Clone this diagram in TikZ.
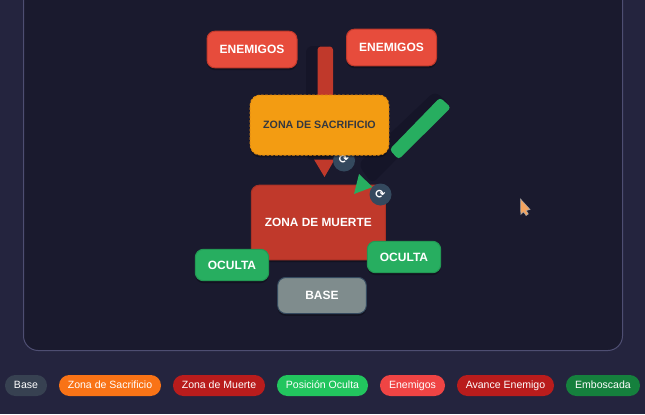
\documentclass[tikz,border=0pt]{standalone}
\usepackage{fontspec}
\setmainfont{Liberation Sans}
\newfontfamily\symfont{DejaVu Sans}
\usetikzlibrary{shadows}
\definecolor{pagebg}{HTML}{24243E}
\definecolor{panelbg}{HTML}{1A1A2E}
\definecolor{panelline}{HTML}{4E4E72}
\definecolor{armshadow}{HTML}{151528}
\definecolor{enemy}{HTML}{E74C3C}
\definecolor{enemyline}{HTML}{C0392B}
\definecolor{sacri}{HTML}{F39C12}
\definecolor{sacriline}{HTML}{E58C10}
\definecolor{sacritext}{HTML}{34383F}
\definecolor{death}{HTML}{C0392B}
\definecolor{deathline}{HTML}{A93226}
\definecolor{hidden}{HTML}{27AE60}
\definecolor{hiddenline}{HTML}{229954}
\definecolor{basefill}{HTML}{7F8C8D}
\definecolor{baseline}{HTML}{34495E}
\definecolor{knob}{HTML}{34495E}
\definecolor{cursorfill}{HTML}{F4A460}
\tikzset{
  x=0.75pt,y=-0.75pt,
  zone/.style={rounded corners=6pt,inner sep=0pt,line width=0.75pt,font=\bfseries\fontsize{9pt}{11pt}\selectfont,text=white,
    drop shadow={shadow xshift=0pt,shadow yshift=-1.8pt,opacity=.3,fill=black}},
  enemybox/.style={zone,fill=enemy,draw=enemyline,minimum width=67.5pt,minimum height=27.5pt},
  hiddenbox/.style={zone,fill=hidden,draw=hiddenline,minimum width=55pt,minimum height=23.5pt},
  pill/.style={rounded corners=7.8pt,inner sep=0pt,minimum height=15.75pt,text=white,text height=6pt,text depth=1.4pt,font=\fontsize{7.9pt}{10pt}\selectfont},
  knobdot/.style={circle,fill=knob,minimum size=16.5pt,inner sep=0pt,text=white,font=\symfont\bfseries\fontsize{9pt}{10pt}\selectfont},
}
\begin{document}
\begin{tikzpicture}
\useasboundingbox (0,0) rectangle (645,414);
\fill[pagebg] (0,0) rectangle (645,414);
\draw[panelline,fill=panelbg,line width=0.75pt,rounded corners=11pt] (23.5,-30) rectangle (622.5,350.5);
% arm shadows
\fill[armshadow,rounded corners=5pt] (306,46) rectangle (333,160);
\fill[armshadow,rounded corners=5pt] (435,91) -- (450,105) -- (372,184) -- (358,164) -- cycle;
% red arrow
\fill[death,rounded corners=2.5pt] (317.5,46.5) rectangle (333,150);
\fill[death] (314,159.5) -- (334.6,159.5) -- (324.5,177) -- cycle;
% green arrow
\fill[hidden,rounded corners=2.5pt] (440,97.5) -- (451,107.5) -- (398.5,159.5) -- (389.5,149.5) -- cycle;
% knob under the sacrifice zone
\node[knobdot] (knobA) at (344,160.5) {\raisebox{1.5pt}{⟳}};
% zones
\node[enemybox] (enemyA) at (252,49.5) {ENEMIGOS};
\node[enemybox] (enemyB) at (391.5,47.5) {ENEMIGOS};
\node[zone,fill=sacri,draw=sacriline,dash pattern=on 2pt off 1.2pt,rounded corners=7.5pt,minimum width=104pt,minimum height=45pt,text=sacritext,font=\bfseries\fontsize{8pt}{10pt}\selectfont] (sacrifice) at (319.5,125) {ZONA DE SACRIFICIO};
\node[zone,fill=death,draw=deathline,minimum width=100.5pt,minimum height=56pt,font=\bfseries\fontsize{8.9pt}{11pt}\selectfont] (deathzone) at (318.3,222.5) {ZONA DE MUERTE};
\fill[hidden] (359,174) -- (372.5,187) -- (354,194) -- cycle;
\node[knobdot] (knobB) at (380.5,194.5) {⟳};
\node[hiddenbox] (hiddenA) at (232,265) {OCULTA};
\node[hiddenbox] (hiddenB) at (404,257) {OCULTA};
\node[zone,fill=basefill,draw=baseline,minimum width=66.5pt,minimum height=27pt] (basezone) at (322,295.5) {BASE};
% cursor
\fill[cursorfill,draw=gray!70,line width=0.4pt] (520.5,199) -- (520.8,214.5) -- (523.6,211.8) -- (526,215.5) -- (528.3,214) -- (526.2,210.5) -- (530,209.5) -- cycle;
% legend
\node[pill,fill={rgb,255:red,55;green,65;blue,81},minimum width=31.5pt] (lgA) at (26,385.5) {Base};
\node[pill,fill={rgb,255:red,249;green,115;blue,22},minimum width=76.5pt] (lgB) at (110,385.5) {Zona de Sacrificio};
\node[pill,fill={rgb,255:red,185;green,28;blue,28},minimum width=69pt] (lgC) at (219,385.5) {Zona de Muerte};
\node[pill,fill={rgb,255:red,34;green,197;blue,94},minimum width=68.25pt] (lgD) at (322.5,385.5) {Posición Oculta};
\node[pill,fill={rgb,255:red,239;green,68;blue,68},minimum width=48.75pt] (lgE) at (412.5,385.5) {Enemigos};
\node[pill,fill={rgb,255:red,185;green,28;blue,28},minimum width=72.75pt] (lgF) at (505.5,385.5) {Avance Enemigo};
\node[pill,fill={rgb,255:red,21;green,128;blue,61},minimum width=55.5pt] (lgG) at (603,385.5) {Emboscada};
\end{tikzpicture}
\end{document}
